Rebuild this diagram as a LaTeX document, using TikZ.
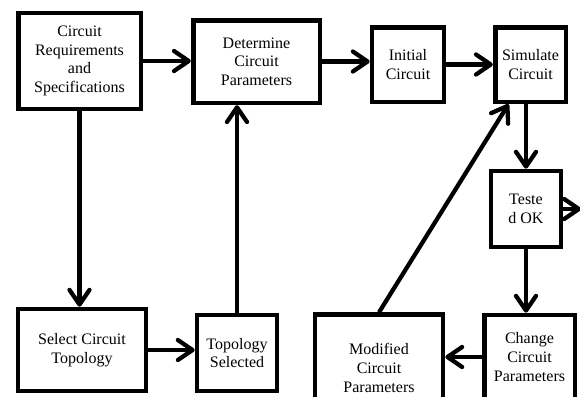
\documentclass[tikz,border=0pt]{standalone}
\usepackage{fontspec}
\setmainfont{Liberation Serif}
\newfontfamily\boxfont{Liberation Serif}
\usetikzlibrary{arrows.meta}

\begin{document}
\begin{tikzpicture}[x=0.75pt, y=-0.75pt,
        blk/.style={draw, line width=3.5pt, align=center, inner sep=1pt,
            font=\boxfont\fontsize{12}{14}\selectfont},
        flow/.style={line width=3.2pt, -{Straight Barb[length=11pt,width=15pt,round]}}]
        \useasboundingbox (0, 0) rectangle (580, 396);
        \clip (0, 0) rectangle (580, 396);

        \node[blk, minimum width=92pt, minimum height=72pt] (req) at (79.5, 61) {Circuit\\Requirements\\and\\Specifications};
        \node[blk, minimum width=95pt, minimum height=62pt] (det) at (256.5, 61.5) {Determine\\Circuit\\Parameters};
        \node[blk, minimum width=54pt, minimum height=56pt] (init) at (408, 64.5) {Initial\\Circuit};
        \node[blk, minimum width=53pt, minimum height=56pt] (sim) at (530.5, 64.5) {Simulate\\Circuit};
        \node[blk, minimum width=52.5pt, minimum height=57pt] (test) at (526, 209) {Teste\\d OK};
        \node[blk, minimum width=68pt, minimum height=63pt] (chg) at (529.5, 357) {Change\\Circuit\\Parameters};
        \node[blk, minimum width=96pt, minimum height=80pt] (mod) at (379, 368) {Modified\\Circuit\\Parameters};
        \node[blk, minimum width=96pt, minimum height=61.5pt] (sel) at (82, 350) {Select Circuit\\Topology};
        \node[blk, minimum width=60pt, minimum height=57pt] (tsel) at (237, 353) {Topology\\Selected};
        \coordinate (out) at (581, 209);

        \draw[flow] (req.east) -- (req.east -| det.west);
        \draw[flow] (det.east) -- (det.east -| init.west);
        \draw[flow] (init) -- (sim);
        \draw[flow] (test.north |- sim.south) -- (test.north);
        \draw[flow] (test.south) -- (test.south |- chg.north);
        \draw[flow] (test.east) -- (out);
        \draw[flow] (chg.west) -- (chg.west -| mod.east);
        \draw[flow] (mod.north) -- (sim.241);
        \draw[flow] (req.south) -- (req.south |- sel.north);
        \draw[flow] (sel.east) -- (sel.east -| tsel.west);
        \draw[flow] (tsel.north) -- (tsel.north |- det.south);
\end{tikzpicture}
\end{document}
